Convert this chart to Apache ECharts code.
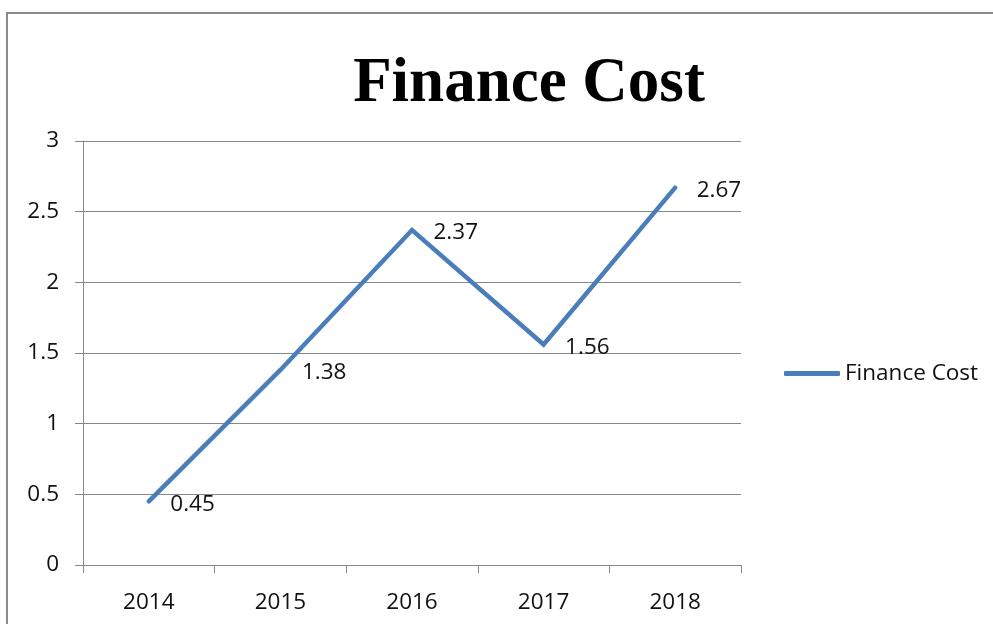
<!DOCTYPE html>
<html>
<head>
<meta charset="utf-8">
<script src="https://cdn.jsdelivr.net/npm/echarts@6/dist/echarts.min.js"></script>
<style>
  html, body { margin: 0; padding: 0; background: #fff; }
  #main { width: 993px; height: 624px; }
</style>
</head>
<body>
<div id="main"></div>
<script>
// data
var years = ["2014", "2015", "2016", "2017", "2018"];
var financeCost = [0.45, 1.38, 2.37, 1.56, 2.67];
var yTicks = { min: 0, max: 3, interval: 0.5 };

var myChart = echarts.init(document.getElementById("main"));

var labelFont = {
  fontFamily: "Open Sans",
  fontSize: 22.5,
  color: "#111",
};

var option = {
  animation: false,
  backgroundColor: "#fff",
  graphic: [
    {
      // outer chart frame
      type: "rect",
      shape: { x: 7, y: 13, width: 1000, height: 700 },
      style: { fill: "none", stroke: "#8a8a8a", lineWidth: 2 },
      silent: true,
    },
  ],
  title: {
    text: "Finance Cost",
    left: 524,
    top: 48,
    textAlign: "center",
    textStyle: {
      fontFamily: "Liberation Serif",
      fontWeight: "bold",
      fontSize: 63,
      color: "#000",
    },
  },
  legend: {
    orient: "vertical",
    left: 779,
    top: 357,
    itemWidth: 56,
    itemHeight: 5,
    itemGap: 6,
    icon: "roundRect",
    textStyle: labelFont,
    data: ["Finance Cost"],
  },
  grid: {
    left: 83,
    right: 252,
    top: 141,
    bottom: 59,
  },
  xAxis: {
    type: "category",
    data: years,
    boundaryGap: true,
    axisLine: { lineStyle: { color: "#878787", width: 1 } },
    axisTick: { show: true, length: 8, lineStyle: { color: "#878787" } },
    axisLabel: Object.assign({ margin: 26 }, labelFont),
  },
  yAxis: {
    type: "value",
    min: yTicks.min,
    max: yTicks.max,
    interval: yTicks.interval,
    axisLine: { show: true, lineStyle: { color: "#878787", width: 1 } },
    axisTick: { show: true, length: 8, lineStyle: { color: "#878787" } },
    axisLabel: Object.assign({ margin: 24 }, labelFont),
    splitLine: { lineStyle: { color: "#878787", width: 1 } },
  },
  series: [
    {
      name: "Finance Cost",
      type: "line",
      data: financeCost,
      symbol: "circle",
      symbolSize: 1,
      showSymbol: true,
      itemStyle: { color: "#4a7ebb" },
      lineStyle: { color: "#4a7ebb", width: 4.5, cap: "round", join: "miter" },
      label: Object.assign(
        {
          show: true,
          position: "right",
          distance: 21,
          offset: [0, 3],
        },
        labelFont
      ),
    },
  ],
};

option && myChart.setOption(option);
</script>
</body>
</html>
